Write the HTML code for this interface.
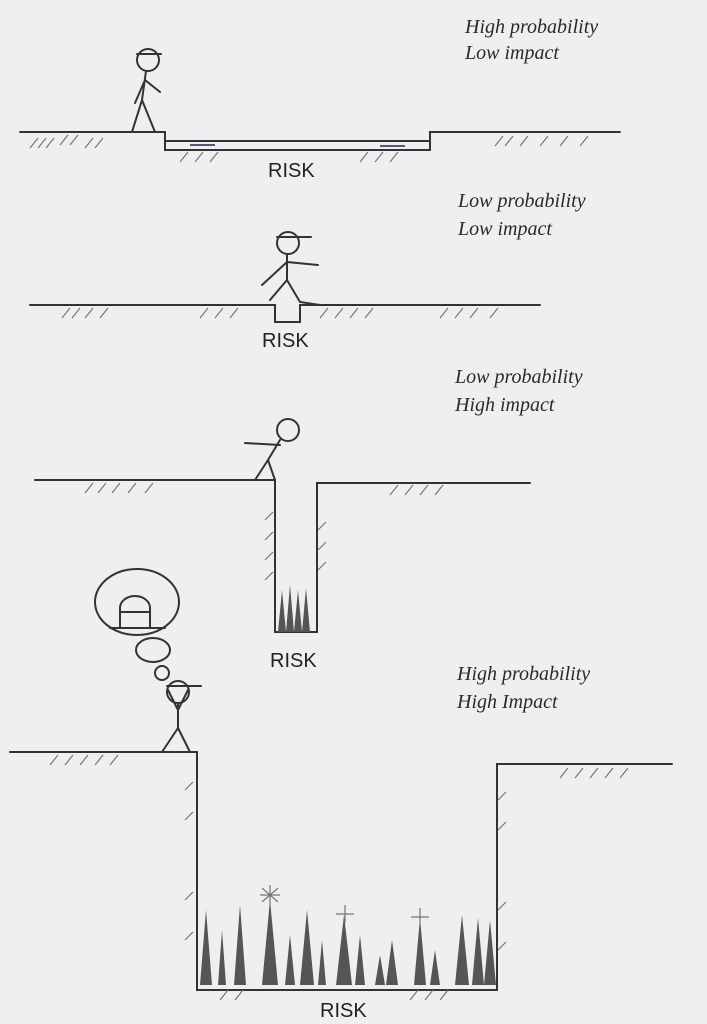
<!DOCTYPE html>
<html><head><meta charset="utf-8"><style>
html,body{margin:0;padding:0;background:#efeef1;}
svg{display:block}
.t{font-family:"Liberation Serif",serif;font-style:italic;font-size:20px;fill:#2a2a2a}
.r{font-family:"Liberation Sans",sans-serif;font-size:20px;fill:#222}
.l{stroke:#333;stroke-width:2;fill:none;stroke-linecap:round}
.h{stroke:#777;stroke-width:1.2;fill:none}
</style></head><body>
<svg width="707" height="1024" viewBox="0 0 707 1024">
<rect width="707" height="1024" fill="#efeef1"/>

<!-- Panel 1 -->
<g>
<text class="t" x="465" y="33">High probability</text>
<text class="t" x="465" y="59">Low impact</text>
<path class="l" d="M20 132 H165 V150 H430 V132 H620"/>
<path class="l" d="M165 141 H430" stroke-width="1"/>
<path class="h" d="M30 148l8-10M38 148l8-10M46 148l8-10M60 145l8-10M70 145l8-10M85 148l8-10M95 148l8-10M180 162l8-10M195 162l8-10M210 162l8-10M360 162l8-10M375 162l8-10M390 162l8-10M495 146l8-10M505 146l8-10M520 146l8-10M540 146l8-10M560 146l8-10M580 146l8-10"/>
<path d="M190 145h25M380 146h25" stroke="#557" stroke-width="2"/>
<text class="r" x="268" y="177">RISK</text>
<g class="l">
<circle cx="148" cy="60" r="11"/><path d="M137 54h24"/><path d="M146 71 L142 100 L132 132 M142 100 L155 132 M145 80 L135 103 M145 80 L160 92"/>
</g>
</g>

<!-- Panel 2 -->
<g>
<text class="t" x="458" y="207">Low probability</text>
<text class="t" x="458" y="235">Low impact</text>
<path class="l" d="M30 305 H275 V322 H300 V305 H540"/>
<path class="h" d="M62 318l8-10M72 318l8-10M85 318l8-10M100 318l8-10M200 318l8-10M215 318l8-10M230 318l8-10M320 318l8-10M335 318l8-10M350 318l8-10M365 318l8-10M440 318l8-10M455 318l8-10M470 318l8-10M490 318l8-10"/>
<text class="r" x="262" y="347">RISK</text>
<g class="l">
<circle cx="288" cy="243" r="11"/><path d="M277 237h34"/><path d="M287 254 L287 280 L270 300 M287 280 L300 302 L320 305 M287 262 L262 285 M287 262 L318 265"/>
</g>
</g>

<!-- Panel 3 -->
<g>
<text class="t" x="455" y="383">Low probability</text>
<text class="t" x="455" y="411">High impact</text>
<path class="l" d="M35 480 H275 V632 H317 V483 H530"/>
<path class="h" d="M85 493l8-10M98 493l8-10M112 493l8-10M128 493l8-10M145 493l8-10M390 495l8-10M405 495l8-10M420 495l8-10M435 495l8-10M265 520l8-8M265 540l8-8M265 560l8-8M265 580l8-8M318 530l8-8M318 550l8-8M318 570l8-8"/>
<path d="M278 632 L282 590 L286 632 Z M286 632 L290 585 L294 632 Z M294 632 L298 590 L302 632 Z M302 632 L306 588 L310 632 Z" fill="#555"/>
<text class="r" x="270" y="667">RISK</text>
<g class="l">
<circle cx="288" cy="430" r="11"/><path d="M280 440 L268 460 L255 480 M268 460 L275 480 M280 445 L245 443"/>
</g>
</g>

<!-- Panel 4 -->
<g>
<text class="t" x="457" y="680">High probability</text>
<text class="t" x="457" y="708">High Impact</text>
<path class="l" d="M10 752 H197 V990 H497 V764 H672"/>
<path class="h" d="M50 765l8-10M65 765l8-10M80 765l8-10M95 765l8-10M110 765l8-10M560 778l8-10M575 778l8-10M590 778l8-10M605 778l8-10M620 778l8-10M185 790l8-8M185 820l8-8M185 900l8-8M185 940l8-8M498 800l8-8M498 830l8-8M498 910l8-8M498 950l8-8M220 1000l8-10M235 1000l8-10M410 1000l8-10M425 1000l8-10M440 1000l8-10"/>
<g fill="#555">
<path d="M200 985 L206 910 L212 985Z M218 985 L222 930 L226 985Z M234 985 L240 905 L246 985Z M262 985 L270 900 L278 985Z M285 985 L290 935 L295 985Z M300 985 L307 910 L314 985Z M318 985 L322 940 L326 985Z M336 985 L344 915 L352 985Z M355 985 L360 935 L365 985Z M375 985 L380 955 L385 985Z M386 985 L392 940 L398 985Z M414 985 L420 918 L426 985Z M430 985 L435 950 L440 985Z M455 985 L462 915 L469 985Z M472 985 L478 918 L484 985Z M484 985 L490 920 L496 985Z"/>
</g>
<path class="h" stroke="#333" d="M270 885v20M260 895h20M262 888l16 14M278 888l-16 14M345 905v18M336 914h18M420 908v18M411 917h18"/>
<text class="r" x="320" y="1017">RISK</text>
<g class="l">
<circle cx="178" cy="692" r="11"/><path d="M167 686h34"/><path d="M178 703 L178 728 L162 752 M178 728 L190 752 M178 710 L168 690 M178 710 L188 690"/>
</g>
<g class="l" stroke-width="1.5">
<ellipse cx="137" cy="602" rx="42" ry="33"/>
<ellipse cx="153" cy="650" rx="17" ry="12"/>
<circle cx="162" cy="673" r="7"/>
<path d="M110 628h55M120 628v-20a15 12 0 0 1 30 0v20M120 612h30"/>
</g>
</g>
</svg>
</body></html>
